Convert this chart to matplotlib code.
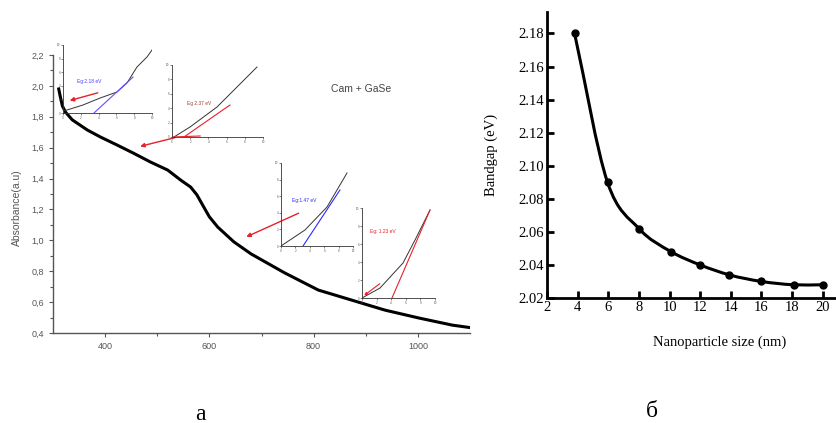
import matplotlib
matplotlib.use("Agg")
import matplotlib.pyplot as plt
import numpy as np
from matplotlib.path import Path
from matplotlib.patches import PathPatch
from matplotlib.ticker import FixedLocator, FuncFormatter

# ---- panel a: absorbance spectrum (Cam + GaSe) ----
wavelength = [311, 314, 318, 324, 337, 366, 391, 423, 454, 487, 520, 545, 564,
              576, 586, 600, 616, 647, 680, 744, 809, 873, 937, 1002, 1066, 1100]
absorbance = [1.98, 1.93, 1.87, 1.83, 1.78, 1.714, 1.669, 1.617, 1.565, 1.507,
              1.455, 1.39, 1.345, 1.295, 1.235, 1.152, 1.086, 0.99, 0.912, 0.79,
              0.678, 0.613, 0.548, 0.497, 0.451, 0.435]

# Tauc-plot insets (arbitrary inset units 0..10)
inset1_x = [0.0, 0.45, 2.25, 4.16, 6.07, 7.19, 8.31, 9.44, 10.0]
inset1_y = [0.3, 0.44, 1.18, 2.2, 3.09, 4.41, 6.76, 8.24, 9.26]
inset1_fit_x = [3.48, 7.87]
inset1_fit_y = [0.0, 5.29]

inset2_x = [0.22, 1.98, 4.95, 7.14, 9.34]
inset2_y = [0.0, 1.39, 4.17, 6.94, 9.72]
inset2_fit_x = [1.2, 6.37]
inset2_fit_y = [-0.1, 4.44]
inset2_base_x = [0.0, 3.1]
inset2_base_y = [0.0, 0.14]

inset3_x = [0.0, 3.33, 6.39, 9.17]
inset3_y = [0.0, 1.93, 4.7, 8.8]
inset3_fit_x = [3.06, 8.19]
inset3_fit_y = [0.0, 6.75]

inset4_x = [0.0, 2.47, 5.62, 7.26, 9.32]
inset4_y = [0.0, 1.11, 3.89, 6.44, 9.78]
inset4_fit_x = [4.11, 9.32]
inset4_fit_y = [0.0, 9.78]

# red arrows in main-axes data units: (tail, head)
arrows_main = [((391, 1.96), (327, 1.90)),
               ((539, 1.669), (462, 1.604)),
               ((776, 1.183), (666, 1.015))]

# ---- panel b: bandgap vs nanoparticle size ----
size_nm = [3.8, 5.95, 8.0, 10.1, 12.0, 13.9, 16.0, 18.1, 20.0]
bandgap = [2.18, 2.09, 2.062, 2.048, 2.040, 2.034, 2.030, 2.028, 2.028]
size_ticks = [2, 4, 6, 8, 10, 12, 14, 16, 18, 20]
gap_ticks = [2.02, 2.04, 2.06, 2.08, 2.10, 2.12, 2.14, 2.16, 2.18]

W, H = 836, 423
fig = plt.figure(figsize=(W / 100, H / 100), dpi=100)
fig.patch.set_facecolor("white")


def px_axes(left, top, right, bottom):
    """Create axes from pixel box (y from top)."""
    return fig.add_axes([left / W, (H - bottom) / H, (right - left) / W, (bottom - top) / H])


gray = "#555555"
sans = ["Liberation Sans", "DejaVu Sans"]
serif = ["Liberation Serif", "DejaVu Serif"]

# main absorbance axes
ax = px_axes(53, 55, 470, 333)
ax.plot(wavelength, absorbance, color="black", lw=2.2)
ax.set_xlim(300, 1100)
ax.set_ylim(0.4, 2.2)
for s in ["top", "right"]:
    ax.spines[s].set_visible(False)
for s in ["left", "bottom"]:
    ax.spines[s].set_color(gray)
    ax.spines[s].set_linewidth(1.0)
ax.xaxis.set_major_locator(FixedLocator([400, 600, 800, 1000]))
ax.xaxis.set_minor_locator(FixedLocator([500, 700, 900]))
ax.yaxis.set_major_locator(FixedLocator(np.arange(0.4, 2.21, 0.2)))
ax.yaxis.set_minor_locator(FixedLocator(np.arange(0.5, 2.2, 0.2)))
ax.yaxis.set_major_formatter(FuncFormatter(lambda v, p: f"{v:.1f}".replace(".", ",")))
ax.tick_params(which="both", colors=gray, labelsize=6.5, length=3, width=0.8)
ax.tick_params(which="minor", length=2)
for lab in ax.get_xticklabels() + ax.get_yticklabels():
    lab.set_family(sans)
ax.set_ylabel("Absorbance(a.u)", fontsize=7.5, color=gray, family=sans)
ax.yaxis.set_label_coords(-0.075, 0.45)
ax.set_facecolor("none")
ax.text(834, 1.98, "Cam + GaSe", fontsize=7.5, color="#444444", family=sans, va="center")

for tail, head in arrows_main:
    ax.annotate("", xy=head, xytext=tail,
                arrowprops=dict(arrowstyle="-|>", color="#e8202a", lw=1.0,
                                mutation_scale=6))


def make_inset(box, cx, cy, fx, fy, fit_color, label, label_xy, label_color):
    iax = px_axes(*box)
    iax.set_facecolor("none")
    iax.plot(cx, cy, color="#333333", lw=0.7)
    iax.plot(fx, fy, color=fit_color, lw=0.8)
    iax.set_xlim(0, 10)
    iax.set_ylim(0, 10)
    for s in ["top", "right"]:
        iax.spines[s].set_visible(False)
    for s in ["left", "bottom"]:
        iax.spines[s].set_color("#333333")
        iax.spines[s].set_linewidth(0.6)
    iax.set_xticks(np.arange(0, 11, 2))
    iax.set_yticks(np.arange(0, 11, 2))
    iax.tick_params(length=1.5, width=0.5, colors="#555555", labelsize=2, pad=0.5)
    iax.text(label_xy[0], label_xy[1], label, fontsize=3.5, color=label_color, family=sans)
    return iax


make_inset((63, 45, 152, 113), inset1_x, inset1_y, inset1_fit_x, inset1_fit_y,
           "#6a4cff", "Eg:2.18 eV", (1.6, 4.4), "#4b3cff")
ax2 = make_inset((172, 65, 263, 137), inset2_x, inset2_y, inset2_fit_x, inset2_fit_y,
                 "#e8202a", "Eg 2.37 eV", (1.6, 4.5), "#a0402a")
ax2.plot(inset2_base_x, inset2_base_y, color="#e8202a", lw=0.8)
make_inset((281, 163, 353, 246), inset3_x, inset3_y, inset3_fit_x, inset3_fit_y,
           "#2a2aff", "Eg:1.47 eV", (1.5, 5.3), "#2a2aff")
ax4 = make_inset((362, 208, 435, 298), inset4_x, inset4_y, inset4_fit_x, inset4_fit_y,
                 "#e8202a", "Eg: 1.23 eV", (1.1, 7.2), "#e8202a")
ax4.annotate("", xy=(0, 0.1), xytext=(2.74, 1.78),
             arrowprops=dict(arrowstyle="-|>", color="#e8202a", lw=0.8, mutation_scale=4))

# bandgap axes
bx = px_axes(547, 12, 835, 298)
xs = np.array(size_nm)
ys = np.array(bandgap)
# smooth curve through the points: Hermite segments with finite-difference slopes
slopes = np.gradient(ys, xs)
verts = [(xs[0], ys[0])]
codes = [Path.MOVETO]
for i in range(len(xs) - 1):
    dx = xs[i + 1] - xs[i]
    verts += [(xs[i] + dx / 3, ys[i] + slopes[i] * dx / 3),
              (xs[i + 1] - dx / 3, ys[i + 1] - slopes[i + 1] * dx / 3),
              (xs[i + 1], ys[i + 1])]
    codes += [Path.CURVE4] * 3
bx.add_patch(PathPatch(Path(verts, codes), facecolor="none", edgecolor="black", lw=2.2))
bx.plot(size_nm, bandgap, "o", color="black", markersize=5)
bx.set_xlim(2, 20.8)
bx.set_ylim(2.02, 2.193)
for s in ["top", "right"]:
    bx.spines[s].set_visible(False)
for s in ["left", "bottom"]:
    bx.spines[s].set_linewidth(2)
bx.set_xticks(size_ticks)
bx.set_yticks(gap_ticks)
bx.set_yticklabels([f"{v:.2f}" for v in gap_ticks])
bx.tick_params(direction="in", length=5, width=2, labelsize=10.5, pad=2)
for lab in bx.get_xticklabels() + bx.get_yticklabels():
    lab.set_family(serif)
bx.set_ylabel("Bandgap (eV)", fontsize=10.5, family=serif)
bx.yaxis.set_label_coords(-0.17, 0.5)
bx.set_xlabel("Nanoparticle size (nm)", fontsize=10.5, family=serif)
bx.xaxis.set_label_coords(0.6, -0.13)

fig.text(200 / W, 1 - 414 / H, "а", fontsize=17, family=serif, ha="center", va="center")
fig.text(652 / W, 1 - 411 / H, "б", fontsize=17, family=serif, ha="center", va="center")

plt.savefig("out.png", dpi=100)
plt.close()
